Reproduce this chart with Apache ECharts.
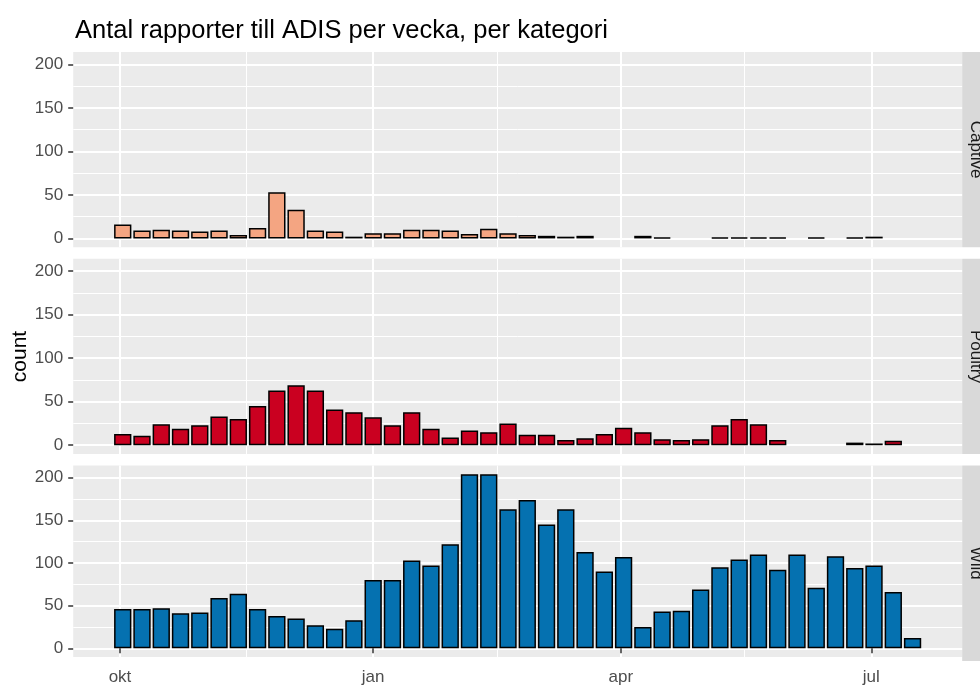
<!DOCTYPE html>
<html>
<head>
<meta charset="utf-8">
<script src="https://cdn.jsdelivr.net/npm/echarts@6/dist/echarts.min.js"></script>
<style>
  html, body { margin: 0; padding: 0; background: #fff; }
  #chart { width: 980px; height: 686px; }
</style>
</head>
<body>
<div id="chart"></div>
<script>
// week start dates (sundays), one bar per week
var weeks = ['2016-10-02', '2016-10-09', '2016-10-16', '2016-10-23', '2016-10-30',
  '2016-11-06', '2016-11-13', '2016-11-20', '2016-11-27', '2016-12-04', '2016-12-11',
  '2016-12-18', '2016-12-25', '2017-01-01', '2017-01-08', '2017-01-15', '2017-01-22',
  '2017-01-29', '2017-02-05', '2017-02-12', '2017-02-19', '2017-02-26', '2017-03-05',
  '2017-03-12', '2017-03-19', '2017-03-26', '2017-04-02', '2017-04-09', '2017-04-16',
  '2017-04-23', '2017-04-30', '2017-05-07', '2017-05-14', '2017-05-21', '2017-05-28',
  '2017-06-04', '2017-06-11', '2017-06-18', '2017-06-25', '2017-07-02', '2017-07-09',
  '2017-07-16'];

var captive = [16, 9, 10, 9, 8, 9, 4, 12, 53, 33, 9, 8, 2, 6, 6, 10, 10, 9, 5, 11, 6, 4, 3, 2, 3,
  null, null, 3, 1, null, null, 1, 1, 1, 1, null, 1, null, 1, 2, null, null];
var poultry = [13, 11, 24, 19, 23, 33, 30, 45, 63, 69, 63, 41, 38, 32, 23, 38, 19, 9, 17, 15, 25,
  12, 12, 6, 8, 13, 20, 15, 7, 6, 7, 23, 30, 24, 6, null, null, null, 3, 2, 5, null];
var wild = [46, 46, 47, 41, 42, 59, 64, 46, 38, 35, 27, 23, 33, 80, 80, 103, 97, 122, 204, 204,
  163, 174, 145, 163, 113, 90, 107, 25, 43, 44, 69, 95, 104, 110, 92, 110, 71, 108, 94, 97, 66, 12];

var facets = ['Captive', 'Poultry', 'Wild'];
var fills = ['#F4A582', '#CA0020', '#0571B0'];
var monthTicks = ['2016-10-01', '2017-01-01', '2017-04-01', '2017-07-01'];
var monthLabels = ['okt', 'jan', 'apr', 'jul'];
var minorTicks = ['2016-11-16', '2017-02-15', '2017-05-16'];
var yTicks = [0, 50, 100, 150, 200];
var yMinor = [25, 75, 125, 175];

var font = '"Liberation Sans", Arial, sans-serif';

// daily categories covering the expanded x range
var days = [];
for (var d = -17; d <= 306; d++) {
  days.push(new Date(Date.UTC(2016, 9, 1 + d)).toISOString().slice(0, 10));
}
function isMajor(i, v) { return monthTicks.indexOf(v) >= 0; }
function isMinor(i, v) { return minorTicks.indexOf(v) >= 0; }

var values = [captive, poultry, wild];
var grids = [], xAxes = [], yAxes = [], series = [], graphics = [];
var panelH = 195.3, step = 206.8;

facets.forEach(function (name, k) {
  var top = 52 + k * step;
  var bottom = k === facets.length - 1;
  grids.push({
    left: 73.2, top: top, width: 888.9, height: panelH,
    show: true, backgroundColor: '#EBEBEB', borderWidth: 0
  });
  xAxes.push({
    type: 'category', gridIndex: k, data: days, boundaryGap: false,
    axisLine: { show: false },
    axisTick: { show: bottom, length: 5, interval: isMajor, lineStyle: { color: '#333', width: 1.5 } },
    axisLabel: {
      show: bottom, interval: isMajor, margin: 12, color: '#4D4D4D', fontSize: 17, fontFamily: font,
      formatter: function (v) { return monthLabels[monthTicks.indexOf(v)]; }
    },
    splitLine: { show: true, interval: isMajor, lineStyle: { color: '#fff', width: 2 } }
  });
  xAxes.push({
    type: 'category', gridIndex: k, data: days, boundaryGap: false,
    axisLine: { show: false }, axisTick: { show: false }, axisLabel: { show: false },
    splitLine: { show: true, interval: isMinor, lineStyle: { color: '#fff', width: 1 } }
  });
  yAxes.push({
    type: 'value', gridIndex: k, min: -10.2, max: 214.2,
    axisLine: { show: false },
    axisTick: { show: true, length: 5, customValues: yTicks, lineStyle: { color: '#333', width: 1.5 } },
    axisLabel: { customValues: yTicks, margin: 10, color: '#4D4D4D', fontSize: 17, fontFamily: font },
    splitLine: { show: true, lineStyle: { color: '#fff', width: 2 } }
  });
  yAxes.push({
    type: 'value', gridIndex: k, min: -10.2, max: 214.2, position: 'left',
    axisLine: { show: false },
    axisTick: { show: false, customValues: yMinor },
    axisLabel: { show: false, customValues: yMinor },
    splitLine: { show: true, lineStyle: { color: '#fff', width: 1 } }
  });
  series.push({
    type: 'bar', name: name, xAxisIndex: 2 * k, yAxisIndex: 2 * k,
    barWidth: 17.3, silent: true,
    itemStyle: { color: fills[k], borderColor: '#000', borderWidth: 1.5 },
    data: weeks.map(function (w, i) { return [w, values[k][i]]; })
  });
  // facet strip on the right
  graphics.push({
    type: 'rect', shape: { x: 962.2, y: top, width: 30, height: panelH },
    style: { fill: '#D9D9D9' }, silent: true
  });
  graphics.push({
    type: 'text', x: 975.5, y: top + panelH / 2, rotation: -Math.PI / 2,
    style: { text: name, fill: '#1A1A1A', font: '17px ' + font, align: 'center', verticalAlign: 'middle' },
    silent: true
  });
});

graphics.push({
  type: 'text', x: 20, y: 356.5, rotation: Math.PI / 2,
  style: { text: 'count', fill: '#000', font: '21px ' + font, align: 'center', verticalAlign: 'middle' },
  silent: true
});

var myChart = echarts.init(document.getElementById('chart'));
myChart.setOption({
  animation: false,
  title: {
    text: 'Antal rapporter till ADIS per vecka, per kategori',
    left: 70, top: 13,
    textStyle: { fontSize: 25.5, fontWeight: 'normal', color: '#000', fontFamily: font }
  },
  grid: grids,
  xAxis: xAxes,
  yAxis: yAxes,
  series: series,
  graphic: graphics
});
</script>
</body>
</html>
